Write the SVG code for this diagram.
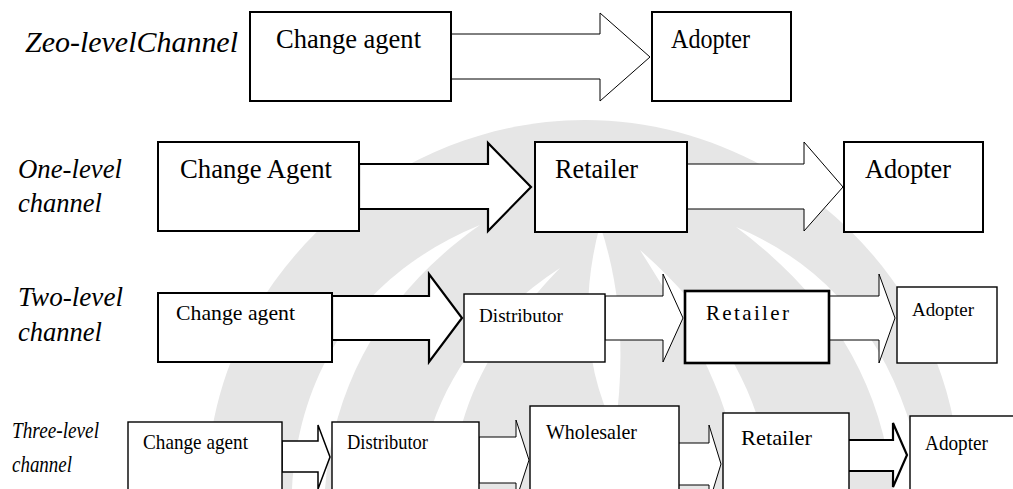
<svg xmlns="http://www.w3.org/2000/svg" width="1013" height="489" viewBox="0 0 1013 489">
<style>
.bg{fill:#ffffff}
.wm{fill:#e6e6e6;stroke:none}
.wc{fill:#ffffff;stroke:none}
.box{fill:#ffffff;stroke:#000000;stroke-width:2}
.boxb{fill:#ffffff;stroke:#000000;stroke-width:2.6}
.boxt{fill:#ffffff;stroke:#000000;stroke-width:1.4}
.arw{fill:#ffffff;stroke:#000000;stroke-width:1;stroke-linejoin:miter}
.arwm{fill:#ffffff;stroke:#000000;stroke-width:1.5;stroke-linejoin:miter}
.arwb{fill:#ffffff;stroke:#000000;stroke-width:2.2;stroke-linejoin:miter}
</style>
<rect class="bg" x="0" y="0" width="1013" height="489"/>
<g id="watermark">
<path class="wm" d="M207 489 C207 280 390 120 585 120 C780 120 960 280 960 489 Z"/>
<path class="wc" d="M292 489 C300 360 370 270 480 225 C395 285 335 370 325 489 Z"/>
<path class="wc" d="M925 489 C905 360 840 270 736 227 C820 290 880 370 893 489 Z"/>
<path class="wc" d="M420 489 C425 400 480 320 560 268 C500 330 455 400 452 489 Z"/>
<path class="wc" d="M772 489 C765 400 720 320 640 250 C690 330 735 400 740 489 Z"/>
<path class="wc" d="M600 225 C580 300 585 370 615 430 C625 360 622 290 600 225 Z"/>
</g>
<g id="row-labels" font-family="Liberation Serif, serif" font-style="italic" fill="#000000">
<text x="25" y="52" font-size="30" textLength="213" lengthAdjust="spacingAndGlyphs">Zeo-levelChannel</text>
<text x="18" y="178" font-size="27" textLength="104" lengthAdjust="spacingAndGlyphs">One-level</text>
<text x="18" y="212" font-size="27" textLength="84" lengthAdjust="spacingAndGlyphs">channel</text>
<text x="18" y="306" font-size="26.5" textLength="105" lengthAdjust="spacingAndGlyphs">Two-level</text>
<text x="18" y="341" font-size="26.5" textLength="84" lengthAdjust="spacingAndGlyphs">channel</text>
<text x="12" y="438" font-size="24" textLength="87" lengthAdjust="spacingAndGlyphs">Three-level</text>
<text x="12" y="472" font-size="24" textLength="60" lengthAdjust="spacingAndGlyphs">channel</text>
</g>
<g id="connectors">
<polygon class="arw" points="451,34 600,34 600,13 650,57 600,101 600,79 451,79"/>
<polygon class="arwb" points="359,164 488,164 488,143 531,187 488,231 488,209 359,209"/>
<polygon class="arw" points="687,164 804,164 804,142 843,187 804,231 804,209 687,209"/>
<polygon class="arwb" points="332,296 429,296 429,274 462,318 429,362 429,340 332,340"/>
<polygon class="arw" points="605,296 663,296 663,274 683,318 663,362 663,340 605,340"/>
<polygon class="arw" points="829,296 879,296 879,274 895,318 879,363 879,340 829,340"/>
<polygon class="arwm" points="282,441 318,441 318,425 330,457 318,489 318,472 282,472"/>
<polygon class="arw" points="479,437 516,437 516,420 529,460 516,500 516,483 479,483"/>
<polygon class="arw" points="678,443 709,443 709,425 721,464 709,503 709,485 678,485"/>
<polygon class="arwb" points="848,440 893,440 893,423 907,455 893,487 893,471 848,471"/>
</g>
<g id="nodes" font-family="Liberation Serif, serif" fill="#000000">
<g id="n-zero-change-agent">
<rect class="box" x="250" y="12" width="201" height="89"/>
<text x="276" y="48" font-size="26.5" textLength="145" lengthAdjust="spacingAndGlyphs">Change agent</text>
</g>
<g id="n-zero-adopter">
<rect class="box" x="652" y="12" width="139" height="89"/>
<text x="671" y="48" font-size="26.5" textLength="79" lengthAdjust="spacingAndGlyphs">Adopter</text>
</g>
<g id="n-one-change-agent">
<rect class="box" x="158" y="142" width="201" height="89"/>
<text x="180" y="178" font-size="26.5" textLength="152" lengthAdjust="spacingAndGlyphs">Change Agent</text>
</g>
<g id="n-one-retailer">
<rect class="box" x="535" y="142" width="152" height="90"/>
<text x="555" y="178" font-size="26.5" textLength="83" lengthAdjust="spacingAndGlyphs">Retailer</text>
</g>
<g id="n-one-adopter">
<rect class="box" x="844" y="142" width="139" height="90"/>
<text x="865" y="178" font-size="26.5" textLength="86" lengthAdjust="spacingAndGlyphs">Adopter</text>
</g>
<g id="n-two-change-agent">
<rect class="box" x="158" y="293" width="174" height="69"/>
<text x="176" y="320" font-size="22" textLength="119" lengthAdjust="spacingAndGlyphs">Change agent</text>
</g>
<g id="n-two-distributor">
<rect class="boxt" x="464" y="294" width="141" height="68"/>
<text x="479" y="322" font-size="19" textLength="84" lengthAdjust="spacingAndGlyphs">Distributor</text>
</g>
<g id="n-two-retailer">
<rect class="boxb" x="685" y="291" width="144" height="72"/>
<text x="706" y="320" font-size="21" textLength="83" lengthAdjust="spacing">Retailer</text>
</g>
<g id="n-two-adopter">
<rect class="boxt" x="897" y="287" width="100" height="76"/>
<text x="912" y="316" font-size="19" textLength="62" lengthAdjust="spacingAndGlyphs">Adopter</text>
</g>
<g id="n-three-change-agent">
<rect class="boxt" x="128" y="422" width="154" height="80"/>
<text x="143" y="449" font-size="21" textLength="105" lengthAdjust="spacingAndGlyphs">Change agent</text>
</g>
<g id="n-three-distributor">
<rect class="boxt" x="332" y="422" width="147" height="80"/>
<text x="347" y="449" font-size="21" textLength="81" lengthAdjust="spacingAndGlyphs">Distributor</text>
</g>
<g id="n-three-wholesaler">
<rect class="boxt" x="530" y="406" width="149" height="96"/>
<text x="546" y="439" font-size="21" textLength="91" lengthAdjust="spacingAndGlyphs">Wholesaler</text>
</g>
<g id="n-three-retailer">
<rect class="boxt" x="723" y="413" width="126" height="89"/>
<text x="741" y="445" font-size="22" textLength="71" lengthAdjust="spacingAndGlyphs">Retailer</text>
</g>
<g id="n-three-adopter">
<rect class="boxt" x="910" y="416" width="110" height="86"/>
<text x="925" y="450" font-size="21" textLength="63" lengthAdjust="spacingAndGlyphs">Adopter</text>
</g>
</g>
</svg>
